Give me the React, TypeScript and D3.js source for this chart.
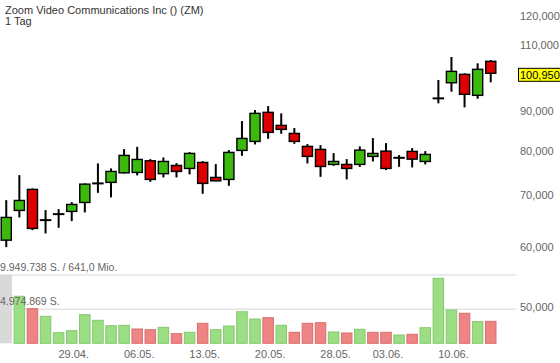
import { scaleBand, scaleLog, scaleLinear, format } from "d3";

const WIDTH = 560;
const HEIGHT = 363;

// trading days shown
const DATES = [
  "22.04.", "23.04.", "24.04.", "25.04.", "26.04.",
  "29.04.", "30.04.", "01.05.", "02.05.", "03.05.",
  "06.05.", "07.05.", "08.05.", "09.05.", "10.05.",
  "13.05.", "14.05.", "15.05.", "16.05.", "17.05.",
  "20.05.", "21.05.", "22.05.", "23.05.", "24.05.",
  "28.05.", "29.05.", "30.05.", "31.05.",
  "03.06.", "04.06.", "05.06.", "06.06.", "07.06.",
  "10.06.", "11.06.", "12.06.", "13.06.",
];

const OPEN = [
  61190, 66900, 71260, 64980, 66160, 66700, 68520, 72550, 72770, 74890,
  74980, 77640, 74700, 76570, 75880, 77260, 73860, 73420, 80100, 82290,
  89790, 86350, 84290, 81070, 80340, 76800, 76800, 76800, 78670, 79930,
  78340, 79860, 77490, 93640, 98130, 100640, 94490, 104640,
];
const HIGH = [
  68990, 74380, 71470, 66960, 67160, 68580, 72550, 77030, 75880, 80420,
  80970, 78030, 78430, 77100, 79690, 77560, 76870, 80170, 87470, 90410,
  91500, 89520, 85660, 81630, 81380, 79450, 78030, 81070, 83110, 81870,
  78990, 80660, 79930, 98930, 106010, 100940, 104020, 105050,
];
const LOW = [
  59920, 65510, 63060, 62430, 63500, 64790, 66500, 70530, 69570, 74750,
  74310, 72900, 73860, 73860, 74530, 70320, 73050, 72030, 78810, 81560,
  82930, 84190, 81700, 77030, 73990, 76470, 73420, 76240, 77490, 75500,
  76240, 76110, 76800, 92250, 95520, 91140, 93530, 98250,
];
const CLOSE = [
  65510, 68930, 63380, 64980, 66160, 68110, 72390, 72550, 75200, 78910,
  77960, 73420, 77490, 75200, 79380, 72550, 73110, 79620, 83030, 89520,
  84550, 85320, 82290, 78670, 76330, 77490, 75880, 80170, 79380, 75880,
  78340, 78030, 79140, 93640, 101540, 94780, 102160, 100950,
];
const VOLUME = [
  12000000, 6850000, 5040000, 3930000, 1540000, 1840000, 4170000, 3350000,
  2560000, 2620000, 2080000, 1980000, 2330000, 1400000, 1600000, 2910000,
  1980000, 2520000, 4600000, 3540000, 3730000, 2620000, 1600000, 2910000,
  3000000, 1650000, 1500000, 2040000, 1600000, 1600000, 1210000, 1310000,
  2270000, 9470000, 4850000, 4370000, 3150000, 3200000,
];

// 100,000 sits under the last-price marker, so it is not listed
const PRICE_TICKS = [50000, 60000, 70000, 80000, 90000, 110000, 120000];
const DATE_TICKS = ["29.04.", "06.05.", "13.05.", "20.05.", "28.05.", "03.06.", "10.06."];
const VOLUME_MAX = 9949738;

const TITLE = "Zoom Video Communications Inc () (ZM)";
const PERIOD = "1 Tag";
const VOL_TOP_LABEL = "9.949.738 S. / 641,0 Mio.";
const VOL_MID_LABEL = "4.974.869 S.";

const FONT = "'Liberation Sans', Arial, sans-serif";
const GREEN = "#3cb90e";
const RED = "#dc0000";

export default function App() {
  const x = scaleBand<string>()
    .domain(DATES)
    .range([0.5, 496.5])
    .paddingInner(0.12)
    .paddingOuter(0);
  const bw = x.bandwidth();
  const cx = (d: string) => (x(d) ?? 0) + bw / 2;

  const y = scaleLog().domain([60000, 120000]).range([246.7, 15.7]);
  const yv = scaleLinear().domain([0, VOLUME_MAX]).range([343.3, 275]).clamp(true);
  const fmt = format(",.0f");

  const last = CLOSE.length - 1;
  const lastY = y(CLOSE[last]) + 1.5;

  return (
    <svg
      width={WIDTH}
      height={HEIGHT}
      style={{ position: "absolute", left: 0, top: 0, background: "#fff" }}
      fontFamily={FONT}
    >
      {/* title */}
      <text x={5} y={14} fontSize={11} fill="#333">{TITLE}</text>
      <text x={5} y={25} fontSize={11} fill="#333">{PERIOD}</text>

      {/* volume grid */}
      {[VOLUME_MAX, VOLUME_MAX / 2].map(v => (
        <line key={v} x1={0} x2={516} y1={yv(v)} y2={yv(v)} stroke="#e4e4e4" strokeWidth={1.5} />
      ))}

      {/* volume bars */}
      {DATES.map((d, i) => {
        const top = yv(VOLUME[i]);
        if (i === 0) {
          return <rect key={d} x={0} y={top} width={cx(d) + bw / 2} height={yv(0) - top} fill="#d9d9d9" />;
        }
        const up = CLOSE[i] >= CLOSE[i - 1];
        return (
          <rect
            key={d}
            x={cx(d) - bw / 2 + 0.5}
            y={top}
            width={bw - 1}
            height={yv(0) - top}
            fill={up ? "#9bde83" : "#ef8484"}
            stroke={up ? "#86c86e" : "#d86e6e"}
            strokeWidth={1}
          />
        );
      })}

      <text x={0} y={271} fontSize={10.5} fill="#666">{VOL_TOP_LABEL}</text>
      <text x={0} y={305} fontSize={10.5} fill="#666">{VOL_MID_LABEL}</text>

      {/* candles */}
      {DATES.map((d, i) => {
        const c = cx(d);
        const o = OPEN[i];
        const cl = CLOSE[i];
        const top = y(Math.max(o, cl));
        const bot = y(Math.min(o, cl));
        return (
          <g key={d}>
            <line x1={c} x2={c} y1={y(HIGH[i])} y2={y(LOW[i])} stroke="#000" strokeWidth={2} />
            {o === cl ? (
              <line x1={c - bw / 2} x2={c + bw / 2} y1={top} y2={top} stroke="#000" strokeWidth={2} />
            ) : (
              <rect
                x={c - bw / 2 + 0.7}
                y={top}
                width={bw - 1.4}
                height={bot - top}
                fill={cl > o ? GREEN : RED}
                stroke="#000"
                strokeWidth={1.4}
              />
            )}
          </g>
        );
      })}

      {/* price axis */}
      {PRICE_TICKS.map(t => (
        <text key={t} x={520} y={y(t)} dy="0.35em" fontSize={11} fill="#666">
          {fmt(t)}
        </text>
      ))}
      <rect x={518.5} y={lastY - 6.5} width={42} height={13} fill="#ffff00" stroke="#000" strokeWidth={1} />
      <text x={520} y={lastY} dy="0.35em" fontSize={11} fill="#000">{fmt(CLOSE[last])}</text>

      {/* date axis */}
      {DATE_TICKS.map(t => (
        <text key={t} x={cx(t) + 2} y={358} textAnchor="middle" fontSize={11} fill="#666">
          {t}
        </text>
      ))}
    </svg>
  );
}
